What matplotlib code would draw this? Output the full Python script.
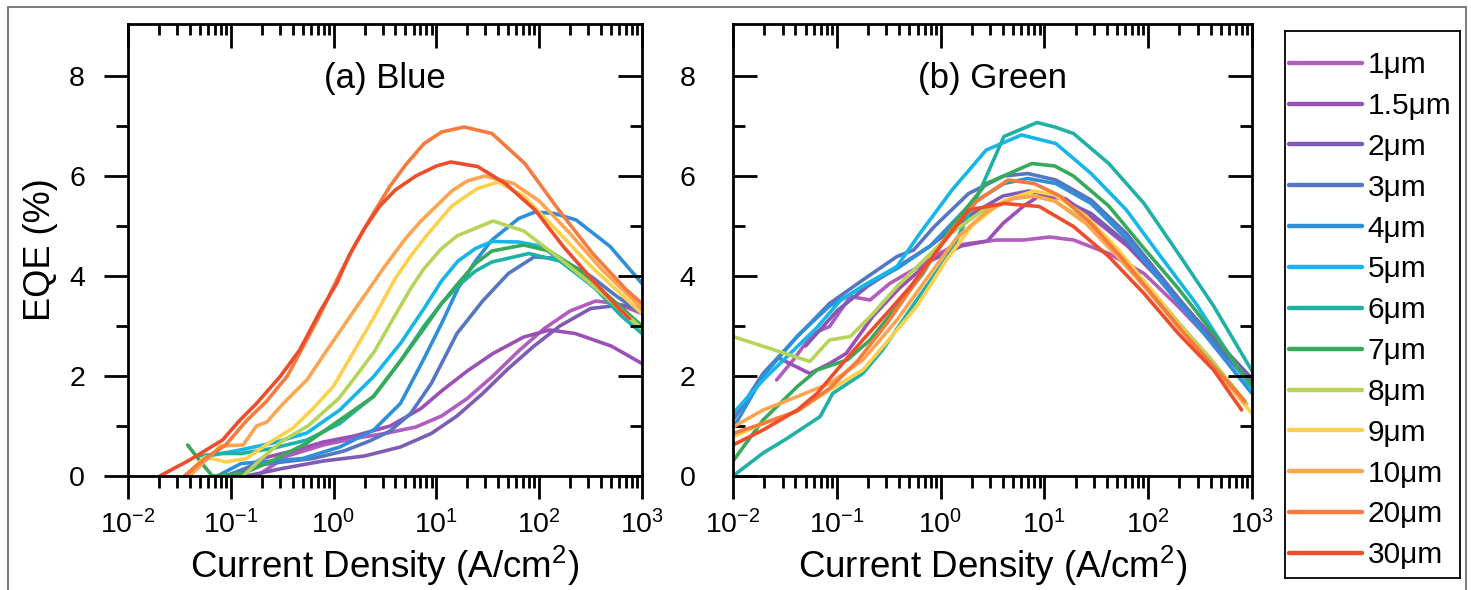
import matplotlib
matplotlib.use('Agg')
import matplotlib.pyplot as plt
import numpy as np
from matplotlib.ticker import FixedLocator, NullFormatter, FuncFormatter
from matplotlib.patches import Rectangle

plt.rcParams['font.family'] = ['Liberation Sans', 'DejaVu Sans']
plt.rcParams['mathtext.fontset'] = 'custom'
plt.rcParams['mathtext.rm'] = 'Liberation Sans'
plt.rcParams['mathtext.it'] = 'Liberation Sans:italic'
plt.rcParams['mathtext.bf'] = 'Liberation Sans:bold'

# ---------------- data ----------------
labels = ['1\u03bcm', '1.5\u03bcm', '2\u03bcm', '3\u03bcm', '4\u03bcm', '5\u03bcm', '6\u03bcm',
          '7\u03bcm', '8\u03bcm', '9\u03bcm', '10\u03bcm', '20\u03bcm', '30\u03bcm']
colors = ['#B15DBE', '#9A50B5', '#7E5CB6', '#5675C2', '#2F8FD8', '#17B6EA', '#1FB1A6',
          '#37AA5A', '#B5D458', '#FDD04C', '#FBA550', '#F57B3E', '#EE4D2C']

# Blue panel: log10(J) and EQE (%)
blue_1_logJ = [-0.75, -0.45, -0.1, 0.2, 0.5, 0.8, 1.05, 1.3, 1.55, 1.8, 2.05, 2.3, 2.55, 2.75, 3.0]
blue_1_eqe = [0.0, 0.4, 0.62, 0.75, 0.85, 0.98, 1.2, 1.55, 2.0, 2.5, 2.95, 3.3, 3.5, 3.45, 3.25]
blue_15_logJ = [-0.95, -0.7, -0.4, -0.1, 0.2, 0.55, 0.85, 1.05, 1.3, 1.55, 1.85, 2.1, 2.35, 2.7, 3.0]
blue_15_eqe = [0.0, 0.35, 0.5, 0.68, 0.8, 1.0, 1.35, 1.7, 2.1, 2.45, 2.78, 2.92, 2.85, 2.6, 2.25]
blue_2_logJ = [-0.85, -0.5, -0.1, 0.3, 0.65, 0.95, 1.2, 1.45, 1.7, 1.95, 2.2, 2.5, 2.8, 3.0]
blue_2_eqe = [0.0, 0.15, 0.3, 0.4, 0.58, 0.85, 1.2, 1.65, 2.15, 2.6, 3.0, 3.35, 3.42, 3.35]
blue_3_logJ = [-1.05, -0.8, -0.5, -0.2, 0.1, 0.35, 0.55, 0.75, 0.95, 1.2, 1.45, 1.7, 1.95, 2.2, 2.5, 2.75, 3.0]
blue_3_eqe = [0.0, 0.2, 0.28, 0.35, 0.5, 0.7, 0.9, 1.25, 1.85, 2.85, 3.5, 4.05, 4.38, 4.35, 4.0, 3.6, 3.25]
blue_4_logJ = [-1.13, -0.9, -0.6, -0.3, 0.06, 0.39, 0.65, 0.88, 1.05, 1.21, 1.38, 1.54, 1.8, 1.96, 2.15, 2.36, 2.69, 3.0]
blue_4_eqe = [0.0, 0.25, 0.3, 0.35, 0.58, 0.92, 1.45, 2.35, 3.05, 3.75, 4.3, 4.72, 5.15, 5.28, 5.25, 5.12, 4.59, 3.85]
blue_5_logJ = [-1.25, -1.17, -0.91, -0.59, -0.26, 0.06, 0.39, 0.65, 0.88, 1.05, 1.21, 1.38, 1.54, 1.8, 2.03, 2.36, 2.69, 3.0]
blue_5_eqe = [0.35, 0.42, 0.52, 0.66, 0.86, 1.32, 1.99, 2.65, 3.35, 3.9, 4.3, 4.55, 4.69, 4.68, 4.59, 4.05, 3.52, 2.95]
blue_6_logJ = [-1.32, -1.1, -0.9, -0.6, -0.26, 0.06, 0.39, 0.65, 0.88, 1.05, 1.21, 1.38, 1.54, 1.9, 2.2, 2.5, 2.8, 3.0]
blue_6_eqe = [0.4, 0.45, 0.45, 0.55, 0.72, 1.05, 1.6, 2.3, 3.0, 3.45, 3.8, 4.1, 4.28, 4.45, 4.3, 3.85, 3.2, 2.85]
blue_7_logJ = [-1.42, -1.3, -1.18, -0.88, -0.6, -0.26, 0.06, 0.39, 0.65, 0.88, 1.05, 1.21, 1.38, 1.54, 1.85, 2.1, 2.4, 2.7, 3.0]
blue_7_eqe = [0.62, 0.3, 0.0, 0.05, 0.3, 0.66, 1.12, 1.59, 2.3, 2.95, 3.45, 3.85, 4.25, 4.5, 4.62, 4.5, 4.1, 3.55, 3.0]
blue_8_logJ = [-0.88, -0.7, -0.5, -0.25, 0.05, 0.2, 0.4, 0.58, 0.75, 0.88, 1.05, 1.2, 1.55, 1.85, 2.2, 2.5, 3.0]
blue_8_eqe = [0.0, 0.35, 0.7, 1.0, 1.55, 1.95, 2.5, 3.15, 3.75, 4.15, 4.55, 4.8, 5.1, 4.9, 4.35, 3.85, 2.95]
blue_9_logJ = [-1.45, -1.25, -1.05, -0.85, -0.6, -0.4, -0.2, 0.0, 0.2, 0.4, 0.6, 0.75, 0.9, 1.15, 1.4, 1.6, 1.85, 2.2, 2.5, 3.0]
blue_9_eqe = [0.0, 0.38, 0.28, 0.35, 0.7, 0.95, 1.35, 1.8, 2.5, 3.2, 3.95, 4.4, 4.8, 5.4, 5.75, 5.88, 5.6, 4.85, 4.2, 3.25]
blue_10_logJ = [-1.4, -1.2, -1.1, -0.88, -0.75, -0.65, -0.49, -0.26, -0.07, 0.23, 0.5, 0.7, 0.85, 1.0, 1.15, 1.3, 1.47, 1.75, 2.0, 2.3, 2.6, 3.0]
blue_10_eqe = [0.0, 0.4, 0.6, 0.62, 1.0, 1.08, 1.45, 1.92, 2.5, 3.4, 4.2, 4.75, 5.1, 5.4, 5.7, 5.9, 6.0, 5.85, 5.5, 4.85, 4.15, 3.35]
blue_20_logJ = [-1.45, -1.25, -1.05, -0.85, -0.65, -0.45, -0.15, 0.05, 0.2, 0.4, 0.55, 0.7, 0.88, 1.05, 1.27, 1.54, 1.86, 2.19, 2.52, 2.85, 3.0]
blue_20_eqe = [0.0, 0.35, 0.62, 1.1, 1.5, 2.0, 3.15, 4.0, 4.6, 5.3, 5.8, 6.22, 6.65, 6.88, 6.98, 6.85, 6.25, 5.32, 4.45, 3.72, 3.45]
blue_30_logJ = [-1.69, -1.4, -1.08, -0.91, -0.75, -0.52, -0.33, -0.13, 0.03, 0.15, 0.3, 0.45, 0.6, 0.8, 1.0, 1.14, 1.4, 1.67, 1.96, 2.23, 2.52, 2.79, 2.88]
blue_30_eqe = [0.0, 0.32, 0.72, 1.12, 1.45, 1.99, 2.52, 3.3, 3.85, 4.4, 4.95, 5.4, 5.72, 6.0, 6.2, 6.28, 6.19, 5.85, 5.32, 4.6, 3.92, 3.32, 3.15]

# Green panel: log10(J) and EQE (%)
green_1_logJ = [-1.58, -1.42, -1.23, -1.07, -0.87, -0.68, -0.49, -0.2, -0.06, 0.11, 0.27, 0.54, 0.8, 1.05, 1.28, 1.62, 1.96, 2.29, 2.63, 3.0]
green_1_eqe = [1.92, 2.32, 2.85, 2.99, 3.59, 3.52, 3.85, 4.2, 4.39, 4.59, 4.65, 4.72, 4.72, 4.78, 4.72, 4.45, 4.05, 3.39, 2.65, 1.95]
green_15_logJ = [-1.55, -1.26, -1.07, -0.91, -0.65, -0.4, -0.1, 0.2, 0.45, 0.6, 0.8, 0.95, 1.2, 1.5, 1.8, 2.1, 2.4, 2.7, 3.0]
green_15_eqe = [2.35, 2.05, 2.25, 2.45, 3.2, 3.75, 4.3, 4.6, 4.7, 5.05, 5.4, 5.6, 5.55, 5.1, 4.6, 3.95, 3.2, 2.5, 1.85]
green_2_logJ = [-1.3, -1.0, -0.7, -0.4, -0.1, 0.27, 0.6, 0.85, 1.1, 1.45, 1.8, 2.12, 2.46, 2.75, 3.0]
green_2_eqe = [2.6, 3.3, 3.8, 4.2, 4.6, 5.2, 5.6, 5.7, 5.6, 5.25, 4.65, 3.95, 3.15, 2.5, 1.95]
green_3_logJ = [-2.0, -1.71, -1.38, -1.07, -0.75, -0.42, -0.26, -0.06, 0.27, 0.61, 0.84, 1.11, 1.45, 1.79, 2.12, 2.46, 3.0]
green_3_eqe = [1.12, 2.05, 2.79, 3.45, 3.92, 4.39, 4.52, 4.99, 5.65, 6.0, 6.05, 5.92, 5.52, 4.85, 4.0, 3.12, 1.8]
green_4_logJ = [-2.0, -1.71, -1.38, -1.07, -0.75, -0.42, -0.1, 0.27, 0.61, 0.84, 1.11, 1.45, 1.79, 2.12, 2.46, 3.0]
green_4_eqe = [0.95, 2.0, 2.8, 3.4, 3.78, 4.15, 4.6, 5.4, 5.85, 5.95, 5.85, 5.45, 4.75, 3.9, 3.05, 1.65]
green_5_logJ = [-2.0, -1.71, -1.38, -1.2, -0.97, -0.75, -0.42, -0.2, 0.11, 0.44, 0.78, 1.11, 1.45, 1.79, 2.12, 2.46, 3.0]
green_5_eqe = [1.25, 1.92, 2.59, 2.95, 3.5, 3.8, 4.19, 4.85, 5.72, 6.52, 6.82, 6.65, 6.05, 5.32, 4.39, 3.45, 1.72]
green_6_logJ = [-2.0, -1.71, -1.48, -1.16, -1.04, -0.75, -0.56, -0.23, 0.11, 0.41, 0.61, 0.93, 1.1, 1.28, 1.62, 1.96, 2.29, 2.63, 3.0]
green_6_eqe = [0.0, 0.46, 0.75, 1.19, 1.65, 2.05, 2.52, 3.52, 4.52, 5.85, 6.79, 7.07, 6.98, 6.85, 6.25, 5.45, 4.45, 3.4, 2.1]
green_7_logJ = [-2.0, -1.71, -1.38, -1.19, -0.9, -0.68, -0.42, -0.17, 0.11, 0.44, 0.88, 1.1, 1.28, 1.62, 1.96, 2.29, 2.63, 3.0]
green_7_eqe = [0.3, 1.12, 1.79, 2.12, 2.32, 2.72, 3.39, 4.05, 5.0, 5.85, 6.25, 6.2, 6.0, 5.4, 4.55, 3.75, 2.85, 1.8]
green_8_logJ = [-2.0, -1.26, -1.07, -0.87, -0.65, -0.42, -0.17, 0.1, 0.4, 0.7, 0.9, 1.1, 1.4, 1.7, 2.0, 2.3, 2.6, 2.95]
green_8_eqe = [2.79, 2.29, 2.72, 2.79, 3.25, 3.79, 4.3, 4.85, 5.3, 5.55, 5.6, 5.5, 5.1, 4.5, 3.8, 3.05, 2.35, 1.45]
green_9_logJ = [-2.0, -1.71, -1.38, -1.07, -0.75, -0.55, -0.23, 0.05, 0.3, 0.6, 0.9, 1.1, 1.4, 1.7, 2.0, 2.3, 2.6, 3.0]
green_9_eqe = [0.78, 1.05, 1.3, 1.72, 2.12, 2.6, 3.39, 4.3, 5.0, 5.5, 5.7, 5.62, 5.2, 4.55, 3.8, 3.0, 2.25, 1.25]
green_10_logJ = [-2.0, -1.71, -1.38, -1.07, -0.75, -0.42, -0.15, 0.15, 0.45, 0.7, 0.9, 1.1, 1.4, 1.7, 2.0, 2.3, 2.6, 2.93]
green_10_eqe = [0.98, 1.32, 1.59, 1.85, 2.32, 3.12, 3.9, 4.75, 5.3, 5.55, 5.6, 5.5, 5.05, 4.4, 3.7, 2.95, 2.25, 1.45]
green_20_logJ = [-2.0, -1.71, -1.38, -1.07, -0.8, -0.5, -0.2, 0.1, 0.35, 0.65, 0.9, 1.15, 1.45, 1.75, 2.05, 2.35, 2.65, 2.93]
green_20_eqe = [0.85, 1.05, 1.3, 1.75, 2.3, 3.1, 4.0, 4.9, 5.5, 5.92, 5.85, 5.6, 5.05, 4.35, 3.6, 2.85, 2.15, 1.5]
green_30_logJ = [-2.0, -1.71, -1.38, -1.19, -0.97, -0.75, -0.52, -0.29, 0.0, 0.27, 0.61, 0.95, 1.28, 1.62, 1.96, 2.29, 2.63, 2.9]
green_30_eqe = [0.62, 0.92, 1.32, 1.65, 2.19, 2.72, 3.25, 3.79, 4.6, 5.32, 5.45, 5.39, 4.99, 4.39, 3.65, 2.85, 2.12, 1.32]

blue_series = [(blue_1_logJ, blue_1_eqe), (blue_15_logJ, blue_15_eqe), (blue_2_logJ, blue_2_eqe),
               (blue_3_logJ, blue_3_eqe), (blue_4_logJ, blue_4_eqe), (blue_5_logJ, blue_5_eqe),
               (blue_6_logJ, blue_6_eqe), (blue_7_logJ, blue_7_eqe), (blue_8_logJ, blue_8_eqe),
               (blue_9_logJ, blue_9_eqe), (blue_10_logJ, blue_10_eqe), (blue_20_logJ, blue_20_eqe),
               (blue_30_logJ, blue_30_eqe)]
green_series = [(green_1_logJ, green_1_eqe), (green_15_logJ, green_15_eqe), (green_2_logJ, green_2_eqe),
                (green_3_logJ, green_3_eqe), (green_4_logJ, green_4_eqe), (green_5_logJ, green_5_eqe),
                (green_6_logJ, green_6_eqe), (green_7_logJ, green_7_eqe), (green_8_logJ, green_8_eqe),
                (green_9_logJ, green_9_eqe), (green_10_logJ, green_10_eqe), (green_20_logJ, green_20_eqe),
                (green_30_logJ, green_30_eqe)]

x_ticks = [1e-2, 1e-1, 1e0, 1e1, 1e2, 1e3]
y_ticks = [0, 2, 4, 6, 8]
y_minor = [1, 3, 5, 7]
XLIM = (1e-2, 1e3)
YLIM = (0, 9.04)

# ---------------- figure ----------------
W, H = 1471, 590
fig = plt.figure(figsize=(W / 100, H / 100), dpi=100)

def fx(px):
    return px / W

def fy(py):
    return 1 - py / H

SPW = 2.0
x_minor = [m * 10.0 ** e for e in range(-2, 3) for m in range(2, 10)]

def dec_fmt(v, pos):
    e = int(round(np.log10(v)))
    return r'$\mathregular{10^{%d}}$' % e

def make_panel(rect, series, title, ylab, left_dir, ylabpad):
    ax = fig.add_axes(rect)
    lines = []
    for (lj, eq), c, lab in zip(series, colors, labels):
        ln, = ax.plot(10.0 ** np.array(lj), eq, color=c, lw=2.6, label=lab,
                      solid_capstyle='round', solid_joinstyle='round')
        lines.append(ln)
    ax.set_xscale('log')
    ax.set_xlim(*XLIM)
    ax.set_ylim(*YLIM)
    ax.xaxis.set_major_locator(FixedLocator(x_ticks))
    ax.xaxis.set_minor_locator(FixedLocator(x_minor))
    ax.xaxis.set_major_formatter(FuncFormatter(dec_fmt))
    ax.xaxis.set_minor_formatter(NullFormatter())
    ax.yaxis.set_major_locator(FixedLocator(y_ticks))
    ax.yaxis.set_minor_locator(FixedLocator(y_minor))
    ax.tick_params(axis='x', which='major', direction='out', length=16.5, width=SPW,
                   pad=8, labelsize=20.5, top=False, bottom=True)
    ax.tick_params(axis='x', which='minor', direction='out', length=8.5, width=SPW,
                   top=False, bottom=True)
    ax.tick_params(axis='y', which='major', direction=left_dir, length=17.5, width=SPW,
                   pad=ylabpad, labelsize=20.5, right=False, left=True)
    ax.tick_params(axis='y', which='minor', direction=left_dir, length=8.5, width=SPW,
                   right=False, left=True)
    for s in ax.spines.values():
        s.set_linewidth(SPW)
    # top ticks (inward)
    axt = ax.twiny()
    axt.set_xscale('log')
    axt.set_xlim(*XLIM)
    axt.xaxis.set_major_locator(FixedLocator(x_ticks))
    axt.xaxis.set_minor_locator(FixedLocator(x_minor))
    axt.tick_params(axis='x', which='major', direction='in', length=17, width=SPW,
                    labeltop=False, top=True, bottom=False, labelbottom=False)
    axt.tick_params(axis='x', which='minor', direction='in', length=8, width=SPW,
                    top=True, bottom=False)
    # right ticks (inward)
    axr = ax.twinx()
    axr.set_ylim(*YLIM)
    axr.yaxis.set_major_locator(FixedLocator(y_ticks))
    axr.yaxis.set_minor_locator(FixedLocator(y_minor))
    axr.tick_params(axis='y', which='major', direction='in', length=17.5, width=SPW,
                    labelright=False, right=True, left=False)
    axr.tick_params(axis='y', which='minor', direction='in', length=8.5, width=SPW,
                    right=True, left=False)
    for a in (axt, axr):
        for s in a.spines.values():
            s.set_visible(False)
    ax.set_xlabel(r'Current Density (A/cm$\mathregular{^2}$)', fontsize=26.5, labelpad=3)
    if ylab:
        ax.set_ylabel(ylab, fontsize=26, labelpad=8)
    ax.text(0.5, 0.88, title, transform=ax.transAxes, ha='center', va='center', fontsize=25)
    return ax, lines

axL, linesL = make_panel([fx(128), fy(476), fx(642) - fx(128), fy(24) - fy(476)],
                         blue_series, '(a) Blue', 'EQE (%)', 'out', 13.5)
axR, linesR = make_panel([fx(733), fy(476), fx(1252) - fx(733), fy(24) - fy(476)],
                         green_series, '(b) Green', None, 'in', 27)

# legend box
axLeg = fig.add_axes([fx(1285), fy(578), fx(1460) - fx(1285), fy(31) - fy(578)])
axLeg.set_xticks([])
axLeg.set_yticks([])
for s in axLeg.spines.values():
    s.set_linewidth(1.3)
axLeg.patch.set_alpha(0)
leg = axLeg.legend(handles=linesL, labels=labels, loc='upper left', bbox_to_anchor=(0.02, 0.963),
                   frameon=False, fontsize=21.5, handlelength=2.45, handletextpad=0.2,
                   labelspacing=0.43, borderpad=0, borderaxespad=0)
for h in leg.legend_handles:
    h.set_linewidth(3.2)

# outer frame
fig.add_artist(Rectangle((fx(8), fy(600)), fx(1466) - fx(8), fy(7) - fy(600),
                         transform=fig.transFigure, fill=False, edgecolor='#707070', lw=1.3))

fig.savefig('out.png', dpi=100)
